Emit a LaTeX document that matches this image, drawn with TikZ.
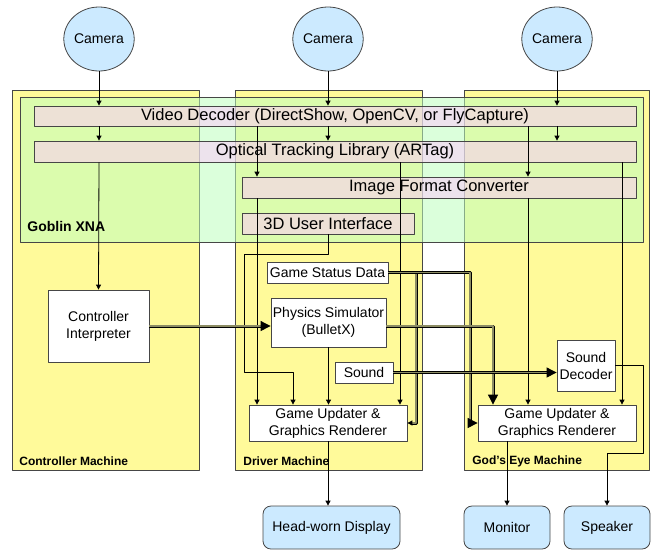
\documentclass[tikz,border=0pt]{standalone}
\usepackage{fontspec}
\setmainfont{Liberation Sans}
\usetikzlibrary{arrows.meta,shapes.geometric}
\definecolor{machfill}{RGB}{255,250,154}
\definecolor{xnafill}{RGB}{190,255,190}
\definecolor{barfill}{RGB}{255,200,255}
\definecolor{devfill}{RGB}{204,234,255}
\definecolor{edge}{RGB}{70,70,70}
\definecolor{netfill}{RGB}{140,140,100}
\begin{document}
\begin{tikzpicture}[x=1pt, y=-1pt, line width=0.8pt, line join=round, >={Triangle[length=5pt,width=5pt]},
	box/.style={draw=edge, fill=white, inner sep=0pt, align=center, font=\fontsize{14}{17}\selectfont},
	bar/.style={draw=edge, fill=barfill, fill opacity=0.5, text opacity=1, inner sep=0pt, minimum height=21pt, font=\fontsize{16.5}{18}\selectfont},
	dev/.style={box, fill=devfill, rounded corners=8pt, minimum width=86pt, minimum height=43pt},
	cam/.style={ellipse, draw=edge, fill=devfill, inner sep=0pt, minimum width=62pt, minimum height=64pt, font=\fontsize{14}{17}\selectfont},
	machine/.style={draw=edge, fill=machfill},
	tag/.style={anchor=west, inner sep=0pt, font=\bfseries\fontsize{12}{14}\selectfont},
	net/.style={double=netfill, double distance=1.2pt, line width=0.9pt},
	big/.style={-{Triangle[length=10pt,width=10pt]}}]
	\useasboundingbox (0,0) rectangle (652,550);
	\filldraw[machine] (12,90) rectangle (199,470);
	\filldraw[machine] (235,90) rectangle (422,470);
	\filldraw[machine] (464,90) rectangle (649.5,470);
	\filldraw[draw=edge, fill=xnafill, fill opacity=0.55] (20,97) rectangle (643,242);
	\node[tag, font=\bfseries\fontsize{14}{16}\selectfont] (xnatag) at (27,226) {Goblin XNA};
	\node[tag] (cmtag) at (19,461) {Controller Machine};
	\node[tag] (dmtag) at (243,461) {Driver Machine};
	\node[tag] (gmtag) at (472,461) {God's Eye Machine};
	\node[cam] (cam1) at (99,39) {Camera};
	\node[cam] (cam2) at (328,39) {Camera};
	\node[cam] (cam3) at (557,39) {Camera};
	\node[bar, minimum width=602pt, minimum height=20pt] (vd) at (335,116) {Video Decoder (DirectShow, OpenCV, or FlyCapture)};
	\node[bar, minimum width=602pt] (ot) at (335,151.5) {Optical Tracking Library (ARTag)};
	\node[bar, minimum width=394pt] (ifc) at (439,187.5) {Image Format Converter};
	\node[bar, minimum width=172pt] (ui) at (328,223.5) {3D User Interface};
	\node[box, minimum width=101pt, minimum height=72pt] (ci) at (98.5,326) {Controller\\Interpreter};
	\node[box, minimum width=121pt, minimum height=21pt] (gsd) at (327.5,272.5) {Game Status Data};
	\node[box, minimum width=115pt, minimum height=49pt] (ps) at (328.5,322.5) {Physics Simulator\\(BulletX)};
	\node[box, minimum width=58pt, minimum height=21pt] (snd) at (364,372.5) {Sound};
	\node[box, minimum width=58pt, minimum height=51pt] (sd) at (586,365.5) {Sound\\Decoder};
	\node[box, minimum width=158pt, minimum height=36pt] (gu1) at (328,423) {Game Updater \&\\Graphics Renderer};
	\node[box, minimum width=158pt, minimum height=36pt] (gu2) at (557,423) {Game Updater \&\\Graphics Renderer};
	\node[dev, minimum width=137pt] (hwd) at (331.5,527.5) {Head-worn Display};
	\node[dev] (mon) at (507,527.5) {Monitor};
	\node[dev] (spk) at (607,527.5) {Speaker};
	\coordinate (lnA) at (257,0);
	\coordinate (lnC) at (400,0);
	\coordinate (lnD) at (528,0);
	\coordinate (lnE) at (622,0);
	\coordinate (lnG) at (416,0);
	\coordinate (lnH) at (470,0);
	\coordinate (lnI) at (493,0);
	\coordinate (bendA) at (244,254);
	\coordinate (bendB) at (293,372);
	\coordinate (bendC) at (643,453);
	\draw[->] (cam1.south) -- (vd.north -| cam1);
	\draw[->] (cam2.south) -- (vd.north -| cam2);
	\draw[->] (cam3.south) -- (vd.north -| cam3);
	\draw[->] (vd.south -| cam1) -- (ot.north -| cam1);
	\draw[->] (vd.south -| cam2) -- (ot.north -| cam2);
	\draw[->] (vd.south -| cam3) -- (ot.north -| cam3);
	\draw[->] (ot.south -| cam1) -- (ci.north);
	\draw[->] (vd.south -| lnA) -- (ifc.north -| lnA);
	\draw[->] (ifc.south -| lnA) -- (gu1.north -| lnA);
	\draw[->] (ui.south -| cam2) |- (bendA) |- (bendB) -- (gu1.north -| bendB);
	\draw[->] (ps.south) -- (gu1.north -| ps.south);
	\draw[->] (ot.south -| lnC) -- (gu1.north -| lnC);
	\draw[->] (vd.south -| lnD) -- (ifc.north -| lnD);
	\draw[->] (ifc.south -| lnD) -- (gu2.north -| lnD);
	\draw[->] (ot.south -| lnE) -- (gu2.north -| lnE);
	\draw[->] (gu1.south -| cam2) -- (hwd.north -| cam2);
	\draw[->] (gu2.south -| mon.north) -- (mon.north);
	\draw[->] (sd.east) -| (bendC) -| (spk.north);
	\draw[net, big] (ci.east) -- (ci.east -| ps.west);
	\draw[net, ->] (gsd.east) -| (lnG |- gu1.east) -- (gu1.east);
	\draw[net, big] (gsd.east) -| (lnH |- gu2.west) -- (gu2.west);
	\draw[net, big] (ps.east |- ci.east) -| (gu2.north -| lnI);
	\draw[net, big] (snd.east) -- (snd.east -| sd.west);
\end{tikzpicture}
\end{document}
